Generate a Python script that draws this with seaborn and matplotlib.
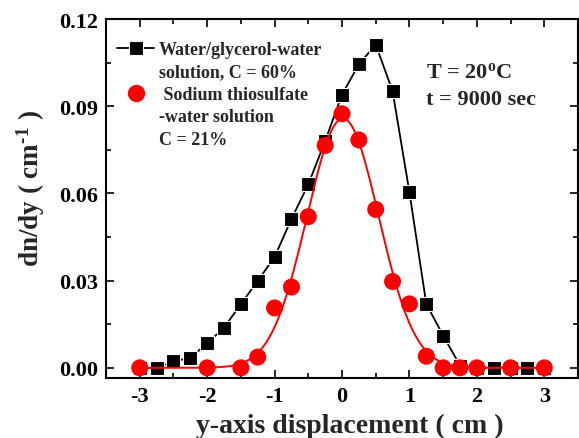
import numpy as np
import pandas as pd
import matplotlib
matplotlib.use("Agg")
import matplotlib.pyplot as plt
from matplotlib.lines import Line2D
from matplotlib.ticker import MultipleLocator, FormatStrFormatter
import seaborn as sns

# Water/glycerol-water solution, C = 60%
glycerol_y = [-3.0, -2.75, -2.5, -2.25, -2.0, -1.75, -1.5, -1.25, -1.0, -0.75,
              -0.5, -0.25, 0.0, 0.25, 0.5, 0.75, 1.0, 1.25, 1.5, 1.75,
              2.0, 2.25, 2.5, 2.75, 3.0]
glycerol_dndy = [0.0, 0.0, 0.0022, 0.0034, 0.0084, 0.0138, 0.0219, 0.0299, 0.0381, 0.0512,
                 0.0631, 0.0780, 0.0940, 0.1044, 0.1112, 0.0952, 0.0604, 0.0220, 0.0111, 0.0008,
                 0.0, 0.0, 0.0, 0.0, 0.0]

# Sodium thiosulfate-water solution, C = 21%
thio_y = [-3.0, -2.0, -1.5, -1.25, -1.0, -0.75, -0.5, -0.25, 0.0, 0.25,
          0.5, 0.75, 1.0, 1.25, 1.5, 1.75, 2.0, 2.5, 3.0]
thio_dndy = [0.0, 0.0, 0.0, 0.0037, 0.0206, 0.0278, 0.0520, 0.0765, 0.0874, 0.0784,
             0.0545, 0.0297, 0.0220, 0.0040, 0.0, 0.0, 0.0, 0.0, 0.0]

x_ticks = [-3, -2, -1, 0, 1, 2, 3]
y_ticks = [0.00, 0.03, 0.06, 0.09, 0.12]

glycerol_label = ["Water/glycerol-water", "solution, C = 60%"]
thio_label = [" Sodium thiosulfate", "-water solution", "C = 21%"]
note_lines = ["T = 20$^{\\mathregular{o}}$C", "t = 9000 sec"]


def gaussian_fit(x, y, iterations=50):
    """Least-squares Gaussian fit (amplitude, centre, width) by Gauss-Newton."""
    x = np.asarray(x, float)
    y = np.asarray(y, float)
    p = np.array([y.max(), x[np.argmax(y)], 0.5])
    for _ in range(iterations):
        a, c, w = p
        e = np.exp(-(x - c) ** 2 / (2 * w ** 2))
        f = a * e
        J = np.column_stack([e,
                             a * e * (x - c) / w ** 2,
                             a * e * (x - c) ** 2 / w ** 3])
        step, *_ = np.linalg.lstsq(J, y - f, rcond=None)
        p = p + step
    return p


sns.set_theme(style="ticks")
plt.rcParams.update({
    "font.family": ["Liberation Serif", "DejaVu Serif"],
    "font.weight": "bold",
    "mathtext.fontset": "custom",
    "mathtext.rm": "Liberation Serif:bold",
    "mathtext.it": "Liberation Serif:bold",
    "mathtext.bf": "Liberation Serif:bold",
    "mathtext.default": "bf",
    "axes.unicode_minus": False,
})

fig = plt.figure(figsize=(5.79, 4.39), dpi=100)
ax = fig.add_axes([106 / 579, 1 - 379 / 439, 472 / 579, 359 / 439])

df_gly = pd.DataFrame({"y": glycerol_y, "dndy": glycerol_dndy})
df_thio = pd.DataFrame({"y": thio_y, "dndy": thio_dndy})

amp, cen, wid = gaussian_fit(thio_y, thio_dndy)
fit_x = np.linspace(-3, 3, 601)
df_fit = pd.DataFrame({"y": fit_x,
                       "dndy": amp * np.exp(-(fit_x - cen) ** 2 / (2 * wid ** 2))})

sns.lineplot(data=df_gly, x="y", y="dndy", ax=ax, color="black", lw=1.3,
             marker="s", markersize=10, markeredgecolor="white", markeredgewidth=0.8,
             zorder=3)
sns.lineplot(data=df_fit, x="y", y="dndy", ax=ax, color="red", lw=1.4, zorder=4)
sns.scatterplot(data=df_thio, x="y", y="dndy", ax=ax, color="red", s=150,
                edgecolor="none", zorder=5)

ax.set_xlim(-3.5, 3.5)
ax.set_ylim(-0.0035, 0.12)
ax.set_xticks(x_ticks)
ax.set_yticks(y_ticks)
ax.xaxis.set_minor_locator(MultipleLocator(0.5))
ax.yaxis.set_minor_locator(MultipleLocator(0.015))
ax.yaxis.set_major_formatter(FormatStrFormatter("%.2f"))
ax.xaxis.set_major_formatter(FormatStrFormatter("%d"))

ax.tick_params(which="both", direction="in", top=True, right=True,
               width=1.2, colors="black")
ax.tick_params(which="major", length=6, labelsize=16, pad=6)
ax.tick_params(which="minor", length=3.5)
for lab in ax.get_xticklabels() + ax.get_yticklabels():
    lab.set_fontweight("bold")
for sp in ax.spines.values():
    sp.set_linewidth(1.5)
    sp.set_color("black")

ax.set_xlabel("y-axis displacement ( cm )", fontsize=20, fontweight="bold")
ax.set_ylabel("dn/dy ( cm$^{\\mathregular{\u2010}\\mathregular{1}}$ )",
              fontsize=19.5, fontweight="bold")
ax.xaxis.set_label_coords((350 - 106) / 472, (379 - 414) / 359)
ax.yaxis.set_label_coords((47 - 106) / 472, (379 - 189) / 359)

blank = Line2D([], [], linestyle="none", marker="none")
handles = [
    Line2D([], [], color="black", lw=1.3, marker="s", markersize=10,
           markeredgecolor="white", markeredgewidth=0.8),
    blank,
    Line2D([], [], linestyle="none", marker="o", markersize=12.5,
           color="red", markeredgecolor="none"),
    blank, blank,
]
labels = glycerol_label + thio_label
leg = ax.legend(handles, labels, loc="upper left",
                bbox_to_anchor=(11 / 472, 1 - 22 / 359),
                frameon=False, prop={"family": "Liberation Serif", "weight": "bold", "size": 13},
                handlelength=2.05, handletextpad=0.25, labelspacing=0.3,
                borderpad=0, borderaxespad=0)

for i, line in enumerate(note_lines):
    ax.text((426 - 106) / 472, (379 - (77.7 + 27.3 * i)) / 359, line,
            transform=ax.transAxes, fontsize=16, fontweight="bold",
            ha="left", va="baseline")

fig.savefig("out.png", dpi=100)
